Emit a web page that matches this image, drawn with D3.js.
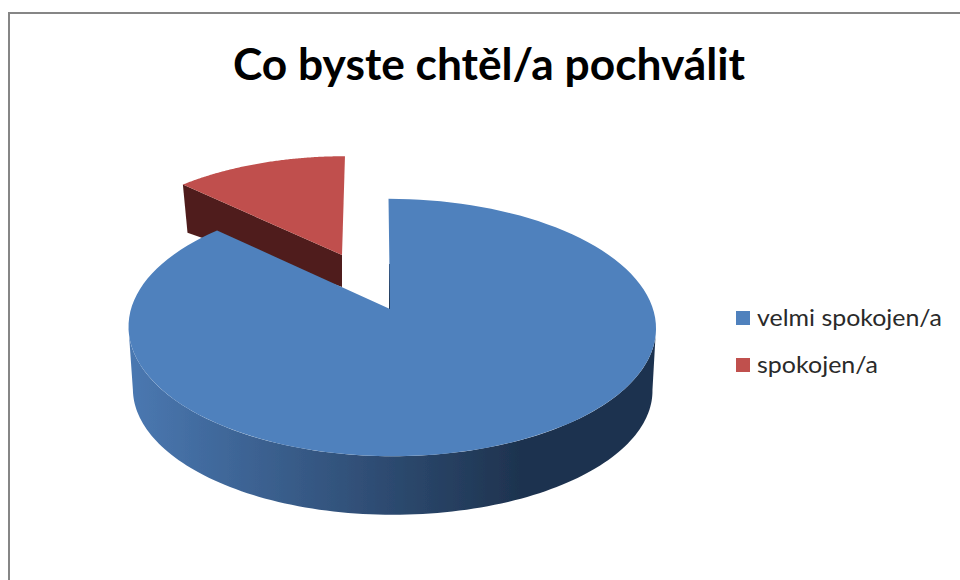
<!DOCTYPE html>
<html>
<head>
<meta charset="utf-8">
<script src="https://cdn.jsdelivr.net/npm/d3@7"></script>
<style>
html,body{margin:0;padding:0;background:#fff;overflow:hidden}
svg{display:block}
text{font-family:Lato,"Open Sans",sans-serif}
</style>
</head>
<body>
<svg id="c" width="960" height="580"></svg>
<script>
const titleText = "Co byste chtěl/a pochválit";
const categories = ["velmi spokojen/a", "spokojen/a"];
const values = [87, 13];
const colors = ["#4F81BD", "#C0504D"];

const svg = d3.select("#c");
const color = d3.scaleOrdinal(categories, colors);

// Perspective mapping of a disc angle to the page
const project = p => a => {
  const u = Math.sin(a), v = Math.cos(a), w = 1 + p.k * v;
  const A = u > 0 ? p.ar : p.al;
  return [p.x + (A * u + p.c * v) / w, p.y - p.b * v / w];
};
const blueTop = {x:390, y:309, al:259, ar:263, b:126, k:0.144, c:-1.7};
const blueBot = {x:390, y:351, al:245, ar:249, b:113, k:0.31, c:-1.7};
const redTop  = {x:342, y:255, al:243, ar:243, b:113, k:0.144, c:3.4};
const redBot  = {x:342, y:287, al:236, ar:236, b:87,  k:0.144, c:3.4};

const arcPts = (proj, a0, a1) => d3.range(0, 121).map(i => proj(a0 + (a1 - a0) * i / 120));
const line = d3.line();

const pie = d3.pie().sort(null).value(d => d)(values);
const [blue, red] = pie;

// gradient for the blue side wall
const defs = svg.append("defs");
const grad = defs.append("linearGradient").attr("id","wall").attr("gradientUnits","userSpaceOnUse")
  .attr("x1",130).attr("x2",520).attr("y1",0).attr("y2",0);
grad.append("stop").attr("offset",0).attr("stop-color","#4A78B1");
grad.append("stop").attr("offset",1).attr("stop-color","#1E334F");
const blur = defs.append("filter").attr("id","soft");
blur.append("feGaussianBlur").attr("stdDeviation",0.45);

// frame
svg.append("path").attr("d","M9 580V13H960").attr("fill","none").attr("stroke","#868686").attr("stroke-width",2);

const marks = svg.append("g").attr("filter","url(#soft)");

// red exploded slice: left wall, then top
const rt = project(redTop), rb = project(redBot);
marks.append("path")
  .attr("d", line([rt(red.startAngle), [redTop.x, redTop.y], [redBot.x, redBot.y], rb(red.startAngle)]) + "Z")
  .attr("fill", "#4F1F1C");
marks.append("path")
  .attr("d", line([[redTop.x, redTop.y], ...arcPts(rt, red.startAngle, red.endAngle)]) + "Z")
  .attr("fill", color(categories[1]));

// blue side wall: from the widest point of the top rim to the widest point of the bottom rim
const bt = project(blueTop), bb = project(blueBot);
const widest = p => Math.acos(-p.k);
const wallPts = [
  ...arcPts(bt, widest(blueTop), 2 * Math.PI - widest(blueTop)),
  ...arcPts(bb, 2 * Math.PI - widest(blueBot), widest(blueBot))
];
marks.append("path").attr("d", line(wallPts) + "Z").attr("fill", "url(#wall)");

// blue inner wall sliver
marks.append("path")
  .attr("d", line([[blueTop.x - 0.5, blueTop.y], [blueTop.x - 0.5, blueTop.y - 45]]))
  .attr("stroke", "#1E334F").attr("stroke-width", 1).attr("fill", "none");

// blue top
marks.append("path")
  .attr("d", line([[blueTop.x, blueTop.y], ...arcPts(bt, blue.startAngle, blue.endAngle)]) + "Z")
  .attr("fill", color(categories[0]));

// title
svg.append("text").attr("x",489).attr("y",80).attr("text-anchor","middle")
  .attr("font-size",43).attr("font-weight",700).attr("fill","#000")
  .attr("textLength",512).attr("lengthAdjust","spacingAndGlyphs").text(titleText);

// legend
const legendWidth = d3.scaleOrdinal(categories, [185, 121]);
const legendY = d3.scalePoint(categories, [318, 365]);
const lg = svg.selectAll("g.lg").data(categories).join("g").attr("class","lg")
  .attr("transform", d => `translate(736,${legendY(d)})`);
lg.append("rect").attr("y",-7).attr("width",14).attr("height",14).attr("fill", d => color(d));
lg.append("text").attr("x",21).attr("y",8).attr("font-size",23).attr("fill","#2a2a2a")
  .attr("textLength", d => legendWidth(d)).attr("lengthAdjust","spacingAndGlyphs").text(d => d);
</script>
</body>
</html>
